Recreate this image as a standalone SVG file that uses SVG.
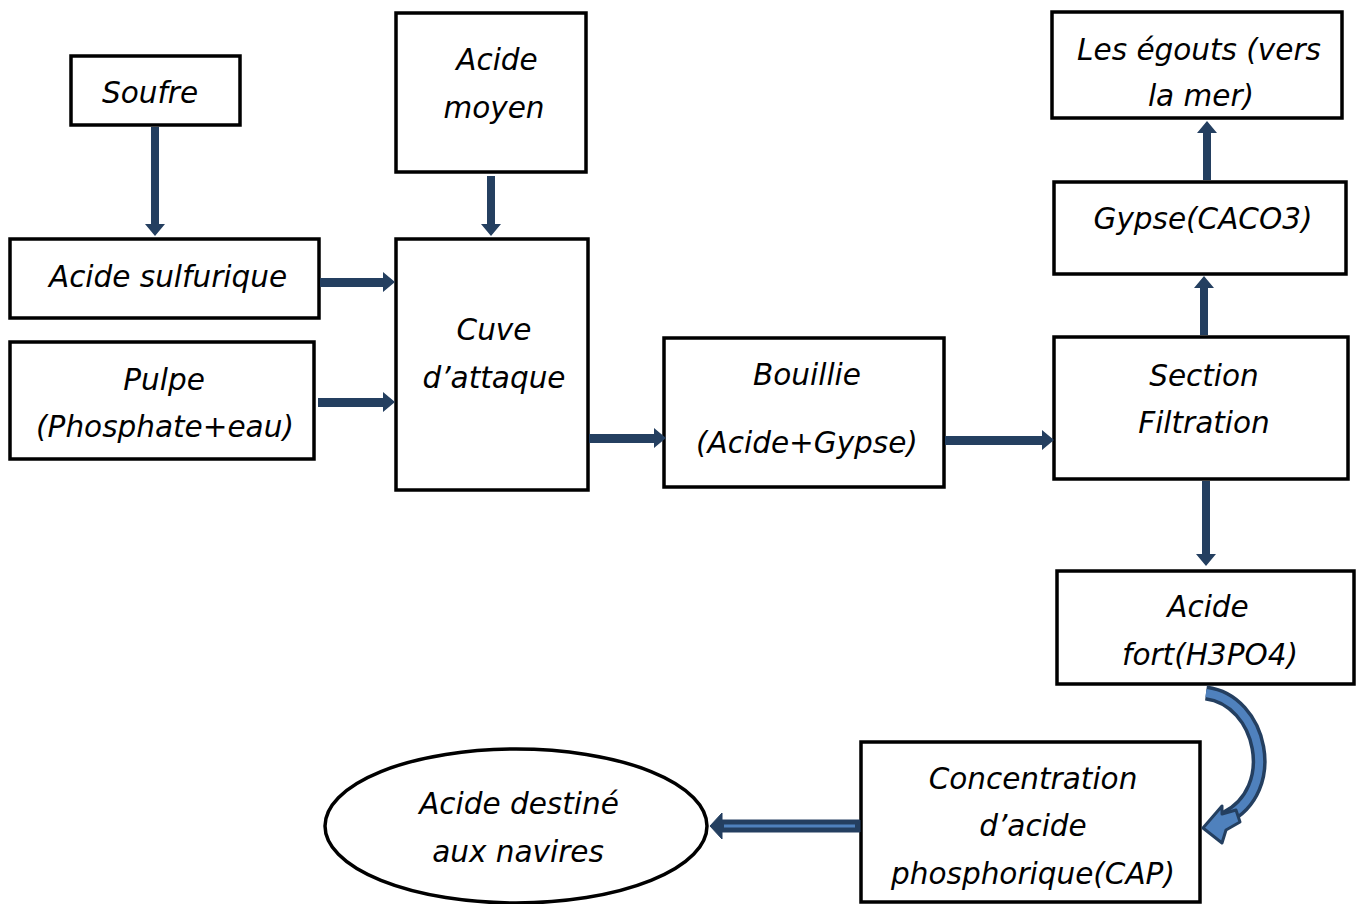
<svg xmlns="http://www.w3.org/2000/svg" width="1363" height="904" viewBox="0 0 1363 904">
<style>
.box{fill:#fff;stroke:#000;stroke-width:3.5}
.t{font-family:"DejaVu Sans","Open Sans",sans-serif;font-style:italic;font-size:29.5px;fill:#000;text-anchor:middle}
.arr{fill:#243F60}
</style>
<rect width="1363" height="904" fill="#fff"/>
<g id="n-soufre"><rect class="box" x="71" y="56" width="169" height="69"/><text class="t" x="150" y="103">Soufre</text></g>
<g id="n-acide-moyen"><rect class="box" x="396" y="13" width="190" height="159"/><text class="t" x="497" y="70">Acide</text><text class="t" x="494" y="118">moyen</text></g>
<g id="n-acide-sulfurique"><rect class="box" x="10" y="239" width="309" height="79"/><text class="t" x="168" y="287">Acide sulfurique</text></g>
<g id="n-pulpe"><rect class="box" x="10" y="342" width="304" height="117"/><text class="t" x="164" y="390">Pulpe</text><text class="t" x="165" y="437">(Phosphate+eau)</text></g>
<g id="n-cuve"><rect class="box" x="396" y="239" width="192" height="251"/><text class="t" x="494" y="340">Cuve</text><text class="t" x="494" y="388">d’attaque</text></g>
<g id="n-bouillie"><rect class="box" x="664" y="338" width="280" height="149"/><text class="t" x="807" y="385">Bouillie</text><text class="t" x="807" y="453">(Acide+Gypse)</text></g>
<g id="n-filtration"><rect class="box" x="1054" y="337" width="294" height="142"/><text class="t" x="1204" y="386">Section</text><text class="t" x="1204" y="433">Filtration</text></g>
<g id="n-gypse"><rect class="box" x="1054" y="182" width="292" height="92"/><text class="t" x="1203" y="229">Gypse(CACO3)</text></g>
<g id="n-egouts"><rect class="box" x="1052" y="12" width="290" height="106"/><text class="t" x="1199" y="60">Les égouts (vers</text><text class="t" x="1201" y="106">la mer)</text></g>
<g id="n-acide-fort"><rect class="box" x="1057" y="571" width="297" height="113"/><text class="t" x="1208" y="617">Acide</text><text class="t" x="1210" y="665">fort(H3PO4)</text></g>
<g id="n-concentration"><rect class="box" x="861" y="742" width="339" height="160"/><text class="t" x="1033" y="789">Concentration</text><text class="t" x="1033" y="836">d’acide</text><text class="t" x="1033" y="884">phosphorique(CAP)</text></g>
<g id="n-navires"><ellipse cx="516" cy="826" rx="191" ry="77" fill="#fff" stroke="#000" stroke-width="3.5"/><text class="t" x="519" y="814">Acide destiné</text><text class="t" x="518" y="862">aux navires</text></g>
<g id="connectors">
<polygon class="arr" points="151,127 159,127 159,224 165,224 155,236 145,224 151,224"/>
<polygon class="arr" points="487,176 495,176 495,224 501,224 491,236 481,224 487,224"/>
<polygon class="arr" points="320,278 383,278 383,272 395,282 383,292 383,287 320,287"/>
<polygon class="arr" points="318,398 383,398 383,392 395,402 383,412 383,407 318,407"/>
<polygon class="arr" points="589,434 654,434 654,428 666,438 654,448 654,443 589,443"/>
<polygon class="arr" points="945,436 1042,436 1042,430 1054,440 1042,450 1042,445 945,445"/>
<polygon class="arr" points="1202,481 1210,481 1210,554 1216,554 1206,566 1196,554 1202,554"/>
<polygon class="arr" points="1200,335 1208,335 1208,288 1214,288 1204,276 1194,288 1200,288"/>
<polygon class="arr" points="1203,180 1211,180 1211,133 1217,133 1207,121 1197,133 1203,133"/>
<polygon points="860,820 722,820 722,813 710,826 722,839 722,832 860,832" fill="#243F60" stroke="#243F60" stroke-width="1"/>
<line x1="724" y1="826" x2="855" y2="826" stroke="#4F81BD" stroke-width="3"/>
<path d="M1206,693 C1262,700 1282,790 1225,818" fill="none" stroke="#243F60" stroke-width="15"/>
<path d="M1206,693 C1262,700 1282,790 1225,818" fill="none" stroke="#4F81BD" stroke-width="8"/>
<polygon points="1203,828 1222,806 1222,814 1236,810 1240,822 1226,830 1222,843" fill="#4F81BD" stroke="#243F60" stroke-width="3" stroke-linejoin="round"/>
</g>
</svg>
